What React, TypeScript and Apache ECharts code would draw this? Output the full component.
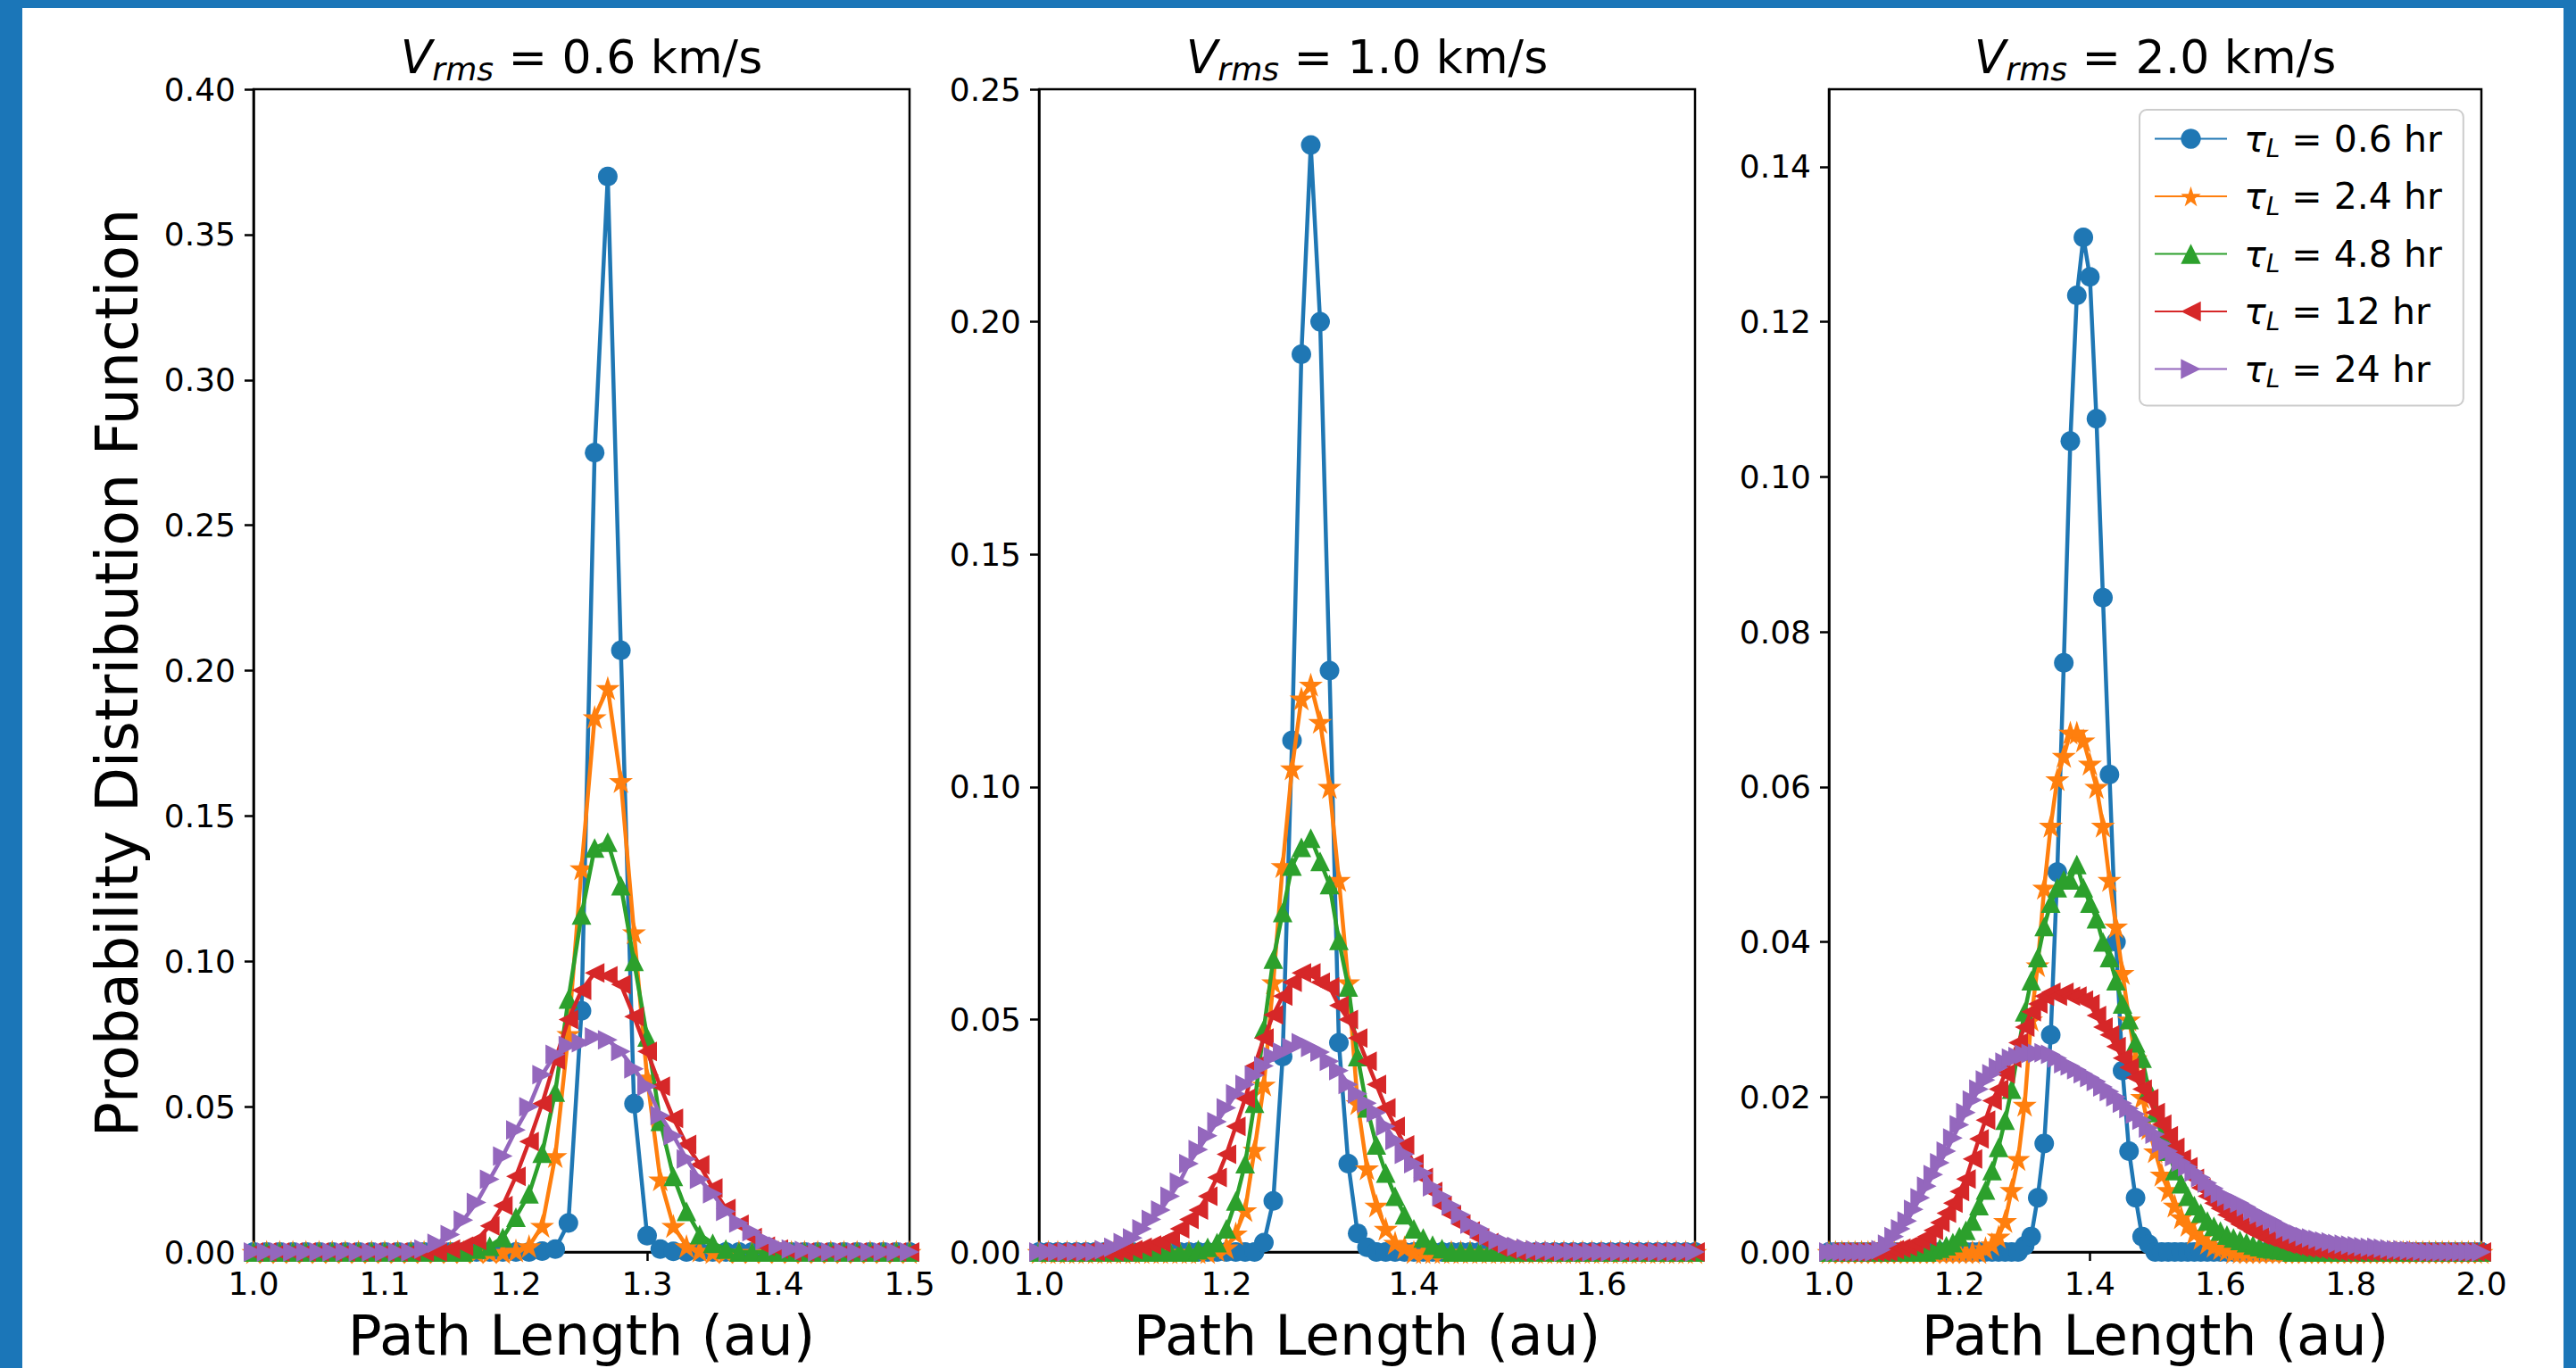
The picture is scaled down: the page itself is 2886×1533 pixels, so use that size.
import React, { useEffect, useRef } from 'react';
import * as echarts from 'echarts';

const W = 2886;
const H = 1533;
const FONT = "'DejaVu Sans', sans-serif";

const COLORS = ['#1f77b4', '#ff7f0e', '#2ca02c', '#d62728', '#9467bd'];
const LEGEND_NAMES = ['τ_L = 0.6 hr', 'τ_L = 2.4 hr', 'τ_L = 4.8 hr', 'τ_L = 12 hr', 'τ_L = 24 hr'];
const V_RMS = ['0.6', '1.0', '2.0'];

// bin width of the histograms (au)
const BIN = 0.01;

// ---- Panel 1 : Vrms = 0.6 km/s ----
const P1_X_TICKS = [1.0, 1.1, 1.2, 1.3, 1.4, 1.5];
const P1_Y_TICKS = [0, 0.05, 0.1, 0.15, 0.2, 0.25, 0.3, 0.35, 0.4];
const P1_BLUE = { from: 1.22, pdf: [0.0003, 0.001, 0.010, 0.083, 0.275, 0.370, 0.207, 0.051, 0.0056, 0.001, 0.0002] };
const P1_ORANGE = { from: 1.20, pdf: [0.0005, 0.002, 0.009, 0.033, 0.075, 0.132, 0.184, 0.194, 0.162, 0.110, 0.060, 0.025, 0.009, 0.002, 0.0005] };
const P1_GREEN = { from: 1.17, pdf: [0.001, 0.002, 0.005, 0.012, 0.020, 0.034, 0.055, 0.087, 0.116, 0.139, 0.141, 0.126, 0.100, 0.074, 0.045, 0.026, 0.014, 0.006, 0.003, 0.001] };
const P1_RED = { from: 1.15, pdf: [0.001, 0.002, 0.004, 0.009, 0.016, 0.026, 0.038, 0.051, 0.066, 0.080, 0.090, 0.096, 0.095, 0.092, 0.081, 0.069, 0.057, 0.046, 0.037, 0.030, 0.022, 0.015, 0.0095, 0.005, 0.002, 0.001] };
const P1_PURPLE = { from: 1.13, pdf: [0.001, 0.003, 0.006, 0.011, 0.017, 0.025, 0.033, 0.042, 0.050, 0.061, 0.068, 0.071, 0.072, 0.074, 0.073, 0.069, 0.063, 0.057, 0.047, 0.040, 0.032, 0.025, 0.020, 0.014, 0.010, 0.007, 0.004, 0.002, 0.001, 0.0005] };

// ---- Panel 2 : Vrms = 1.0 km/s ----
const P2_X_TICKS = [1.0, 1.2, 1.4, 1.6];
const P2_Y_TICKS = [0, 0.05, 0.1, 0.15, 0.2, 0.25];
const P2_BLUE = { from: 1.24, pdf: [0.002, 0.011, 0.042, 0.110, 0.193, 0.238, 0.200, 0.125, 0.045, 0.019, 0.004, 0.001] };
const P2_ORANGE = { from: 1.19, pdf: [0.0005, 0.001, 0.004, 0.009, 0.022, 0.036, 0.058, 0.083, 0.104, 0.119, 0.122, 0.114, 0.100, 0.080, 0.058, 0.032, 0.018, 0.010, 0.005, 0.002, 0.001] };
const P2_GREEN = { from: 1.17, pdf: [0.0005, 0.001, 0.002, 0.005, 0.011, 0.019, 0.032, 0.048, 0.063, 0.073, 0.083, 0.087, 0.089, 0.084, 0.079, 0.067, 0.057, 0.042, 0.031, 0.023, 0.017, 0.012, 0.008, 0.005, 0.003, 0.0015, 0.0007] };
const P2_RED = { from: 1.10, pdf: [0.0005, 0.001, 0.0015, 0.002, 0.003, 0.005, 0.007, 0.009, 0.012, 0.016, 0.021, 0.027, 0.033, 0.040, 0.046, 0.051, 0.055, 0.058, 0.060, 0.060, 0.058, 0.057, 0.053, 0.050, 0.046, 0.041, 0.036, 0.031, 0.027, 0.023, 0.019, 0.016, 0.013, 0.010, 0.008, 0.006, 0.0045, 0.003, 0.002, 0.001, 0.0005] };
const P2_PURPLE = { from: 1.07, pdf: [0.0005, 0.001, 0.002, 0.003, 0.005, 0.007, 0.009, 0.012, 0.015, 0.019, 0.022, 0.025, 0.028, 0.031, 0.034, 0.036, 0.038, 0.040, 0.042, 0.043, 0.044, 0.045, 0.044, 0.043, 0.041, 0.039, 0.036, 0.034, 0.032, 0.030, 0.027, 0.024, 0.021, 0.019, 0.017, 0.014, 0.012, 0.010, 0.008, 0.006, 0.005, 0.0035, 0.0025, 0.0018, 0.0012, 0.0008, 0.0005, 0.0003, 0.0002] };

// ---- Panel 3 : Vrms = 2.0 km/s ----
const P3_X_TICKS = [1.0, 1.2, 1.4, 1.6, 1.8, 2.0];
const P3_Y_TICKS = [0, 0.02, 0.04, 0.06, 0.08, 0.1, 0.12, 0.14];
const P3_BLUE = { from: 1.30, pdf: [0.0008, 0.002, 0.007, 0.014, 0.028, 0.049, 0.076, 0.1046, 0.1234, 0.1309, 0.1258, 0.1075, 0.0844, 0.0616, 0.040, 0.0234, 0.013, 0.007, 0.002, 0.001] };
const P3_ORANGE = { from: 1.24, pdf: [0.0005, 0.001, 0.002, 0.004, 0.008, 0.012, 0.019, 0.030, 0.037, 0.047, 0.055, 0.061, 0.064, 0.067, 0.067, 0.066, 0.063, 0.060, 0.055, 0.048, 0.042, 0.036, 0.030, 0.025, 0.020, 0.016, 0.013, 0.010, 0.008, 0.006, 0.0045, 0.0035, 0.0025, 0.0018, 0.0012, 0.0008, 0.0005, 0.0003] };
const P3_GREEN = { from: 1.16, pdf: [0.0003, 0.0005, 0.0008, 0.0012, 0.002, 0.0028, 0.004, 0.006, 0.008, 0.0105, 0.0135, 0.017, 0.021, 0.026, 0.031, 0.035, 0.038, 0.042, 0.045, 0.047, 0.048, 0.048, 0.050, 0.047, 0.045, 0.043, 0.040, 0.038, 0.035, 0.032, 0.030, 0.027, 0.025, 0.021, 0.018, 0.015, 0.013, 0.0105, 0.0088, 0.0072, 0.006, 0.005, 0.004, 0.0033, 0.0027, 0.0022, 0.0018, 0.0015, 0.0012, 0.0009, 0.0007, 0.0005, 0.0004, 0.0003, 0.0002] };
const P3_RED = { from: 1.10, pdf: [0.0003, 0.0005, 0.0007, 0.001, 0.0014, 0.002, 0.0028, 0.0038, 0.005, 0.0063, 0.0078, 0.0094, 0.012, 0.0146, 0.017, 0.0195, 0.021, 0.023, 0.025, 0.027, 0.029, 0.031, 0.032, 0.033, 0.0335, 0.033, 0.0335, 0.033, 0.033, 0.0325, 0.032, 0.0305, 0.029, 0.028, 0.0265, 0.025, 0.0238, 0.0225, 0.021, 0.0198, 0.018, 0.0165, 0.015, 0.0135, 0.012, 0.011, 0.0095, 0.0083, 0.0072, 0.0063, 0.0056, 0.0048, 0.0042, 0.0036, 0.0031, 0.0026, 0.0022, 0.0019, 0.0016, 0.0013, 0.001, 0.0008, 0.0006, 0.0005, 0.0004, 0.0003, 0.0002, 0.0001] };
const P3_PURPLE = { from: 1.08, pdf: [0.0003, 0.001, 0.002, 0.003, 0.004, 0.0055, 0.007, 0.0085, 0.010, 0.0115, 0.013, 0.0147, 0.0164, 0.018, 0.0196, 0.021, 0.0222, 0.023, 0.0238, 0.0245, 0.025, 0.0252, 0.0255, 0.0256, 0.0256, 0.0257, 0.0255, 0.025, 0.0243, 0.024, 0.0235, 0.023, 0.0225, 0.022, 0.0213, 0.0207, 0.020, 0.0192, 0.0185, 0.0178, 0.017, 0.016, 0.0152, 0.014, 0.013, 0.0123, 0.0116, 0.011, 0.0103, 0.0096, 0.0089, 0.0082, 0.0075, 0.0071, 0.0066, 0.0063, 0.0058, 0.0053, 0.0048, 0.0044, 0.004, 0.0035, 0.0029, 0.0026, 0.0023, 0.002, 0.0018, 0.0016, 0.0014, 0.0013, 0.0011, 0.001, 0.0009, 0.0008, 0.0007, 0.0006, 0.0006, 0.0005, 0.0004, 0.0003, 0.0003, 0.0002, 0.0002, 0.0001] };

const PANELS = [
  { xMin: 1.0, xMax: 1.5, xTicks: P1_X_TICKS, yMax: 0.4, yTicks: P1_Y_TICKS, series: [P1_BLUE, P1_ORANGE, P1_GREEN, P1_RED, P1_PURPLE] },
  { xMin: 1.0, xMax: 1.7, xTicks: P2_X_TICKS, yMax: 0.25, yTicks: P2_Y_TICKS, series: [P2_BLUE, P2_ORANGE, P2_GREEN, P2_RED, P2_PURPLE] },
  { xMin: 1.0, xMax: 2.0, xTicks: P3_X_TICKS, yMax: 0.15, yTicks: P3_Y_TICKS, series: [P3_BLUE, P3_ORANGE, P3_GREEN, P3_RED, P3_PURPLE] },
];

// layout (pixels)
const GRIDS = [
  { left: 284, top: 100, width: 735, height: 1308 },
  { left: 1164, top: 100, width: 735, height: 1308 },
  { left: 2049, top: 100, width: 731, height: 1308 },
];

const STAR = 'path://M0,-10 L2.245,-3.09 L9.511,-3.09 L3.633,1.18 L5.878,8.09 L0,3.82 L-5.878,8.09 L-3.633,1.18 L-9.511,-3.09 L-2.245,-3.09 Z';
const SYMBOLS = ['circle', STAR, 'triangle', 'triangle', 'triangle'];
const SYMBOL_SIZES = [22, 27, 22, 22, 22];
const SYMBOL_ROTATE = [0, 0, 0, 90, -90];

// place a histogram on the panel's bin grid (bins outside the read range are empty)
function onBins(xMin: number, xMax: number, s: { from: number; pdf: number[] }) {
  const n = Math.round((xMax - xMin) / BIN);
  const offset = Math.round((s.from - xMin) / BIN);
  const out: number[][] = [];
  for (let i = 0; i <= n; i++) {
    const x = Number((xMin + i * BIN).toFixed(2));
    const k = i - offset;
    out.push([x, k >= 0 && k < s.pdf.length ? s.pdf[k] : 0]);
  }
  return out;
}

function buildOption() {
  const axisLineStyle = { color: '#000', width: 2.5 };
  const xAxis = PANELS.map((p, i) => ({
    type: 'value',
    gridIndex: i,
    min: p.xMin,
    max: p.xMax,
    axisLine: { show: true, onZero: false, lineStyle: axisLineStyle },
    axisTick: { show: true, length: 10, lineStyle: axisLineStyle, customValues: p.xTicks },
    axisLabel: {
      show: true, customValues: p.xTicks, fontSize: 36, fontFamily: FONT, color: '#000', margin: 17,
      formatter: (v: number) => v.toFixed(1),
    },
    splitLine: { show: false },
    name: 'Path Length (au)',
    nameLocation: 'middle',
    nameGap: 62,
    nameTextStyle: { fontSize: 63, fontFamily: FONT, color: '#000' },
  }));
  const yAxis = PANELS.map((p, i) => ({
    type: 'value',
    gridIndex: i,
    min: 0,
    max: p.yMax,
    axisLine: { show: true, onZero: false, lineStyle: axisLineStyle },
    axisTick: { show: true, length: 10, lineStyle: axisLineStyle, customValues: p.yTicks },
    axisLabel: {
      show: true, customValues: p.yTicks, fontSize: 36, fontFamily: FONT, color: '#000', margin: 20,
      formatter: (v: number) => v.toFixed(2),
    },
    splitLine: { show: false },
  }));

  const series: any[] = [];
  PANELS.forEach((p, pi) => {
    p.series.forEach((s, si) => {
      series.push({
        type: 'line',
        name: LEGEND_NAMES[si],
        xAxisIndex: pi,
        yAxisIndex: pi,
        data: onBins(p.xMin, p.xMax, s),
        symbol: SYMBOLS[si],
        symbolSize: SYMBOL_SIZES[si],
        symbolRotate: SYMBOL_ROTATE[si],
        showAllSymbol: true,
        itemStyle: { color: COLORS[si], borderWidth: 0 },
        lineStyle: { color: COLORS[si], width: 4.5 },
        z: 2 + si,
        clip: true,
        silent: true,
        emphasis: { disabled: true },
      });
    });
  });

  const titleRich = {
    v: { fontSize: 52, fontFamily: FONT, fontStyle: 'italic', fill: '#000' },
    s: { fontSize: 36, fontFamily: FONT, fontStyle: 'italic', fill: '#000', padding: [26, 0, 0, 0] },
    n: { fontSize: 52, fontFamily: FONT, fill: '#000' },
  };

  const graphic: any[] = [
    // outer blue frame
    { type: 'rect', shape: { x: 0, y: 0, width: W, height: 9 }, style: { fill: '#1b76b8' }, silent: true },
    { type: 'rect', shape: { x: 0, y: 0, width: 25, height: H }, style: { fill: '#1b76b8' }, silent: true },
    { type: 'rect', shape: { x: W - 14, y: 0, width: 14, height: H }, style: { fill: '#1b76b8' }, silent: true },
    // y-axis label
    {
      type: 'text', x: 131, y: 754, rotation: Math.PI / 2, silent: true,
      style: { text: 'Probability Distribution Function', fontSize: 65, fontFamily: FONT, fill: '#000', align: 'center', verticalAlign: 'middle', textAlign: 'center', textVerticalAlign: 'middle' },
    },
  ];
  GRIDS.forEach((g, i) => {
    graphic.push({
      type: 'text', x: g.left + g.width / 2, y: 64, silent: true,
      style: {
        text: `{v|V}{s|rms}{n| = ${V_RMS[i]} km/s}`,
        rich: titleRich,
        align: 'center', verticalAlign: 'middle', textAlign: 'center', textVerticalAlign: 'middle',
        fill: '#000',
      },
    });
  });

  return {
    animation: false,
    backgroundColor: '#ffffff',
    grid: GRIDS.map((g) => ({ ...g, show: true, borderColor: '#000', borderWidth: 2.5, backgroundColor: 'transparent' })),
    xAxis,
    yAxis,
    legend: {
      data: LEGEND_NAMES,
      orient: 'vertical',
      left: 2397,
      top: 123,
      padding: [12, 24, 16, 16],
      itemGap: 19,
      itemWidth: 81,
      itemHeight: 28,
      backgroundColor: 'rgba(255,255,255,0.8)',
      borderColor: '#cccccc',
      borderWidth: 2,
      borderRadius: 8,
      selectedMode: false,
      formatter: (name: string) => `{t|τ}{s|L}{n|${name.replace('τ_L', '')}}`,
      textStyle: {
        fontFamily: FONT, fontSize: 41, color: '#000',
        rich: {
          t: { fontFamily: FONT, fontSize: 41, fontStyle: 'italic', color: '#000', padding: [0, 0, 0, 14] },
          s: { fontFamily: FONT, fontSize: 28, fontStyle: 'italic', color: '#000', padding: [22, 0, 0, 0] },
          n: { fontFamily: FONT, fontSize: 41, color: '#000' },
        },
      },
    },
    graphic,
    series,
  };
}

export default function App() {
  const ref = useRef<HTMLDivElement>(null);
  useEffect(() => {
    if (!ref.current) return;
    const chart = echarts.init(ref.current, null, { renderer: 'svg', width: W, height: H });
    chart.setOption(buildOption() as any);
    return () => chart.dispose();
  }, []);
  return (
    <div
      ref={ref}
      style={{ position: 'fixed', left: 0, top: 0, width: W, height: H, background: '#fff' }}
    />
  );
}
